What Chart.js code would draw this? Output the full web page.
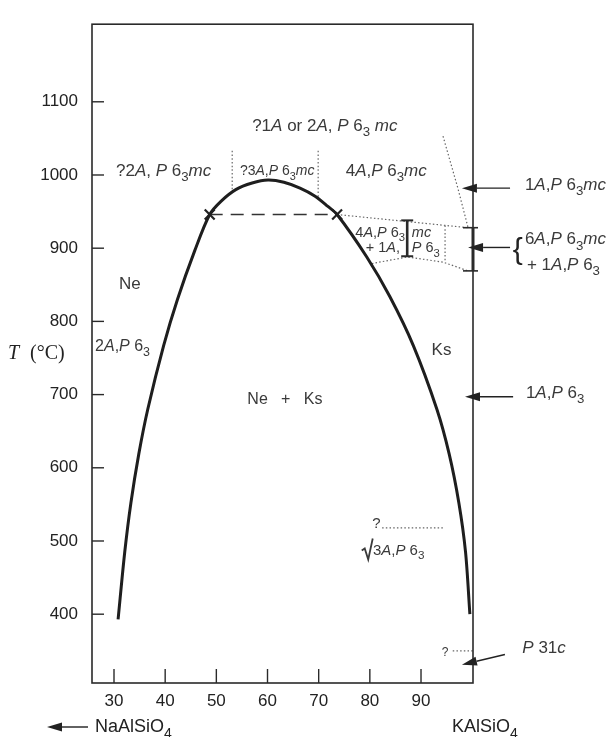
<!DOCTYPE html>
<html>
<head>
<meta charset="utf-8">
<script src="https://cdn.jsdelivr.net/npm/chart.js@4.4.1/dist/chart.umd.min.js"></script>
<style>
  body { margin: 0; background: #fff; }
  #wrap { width: 611px; height: 737px; }
</style>
</head>
<body>
<div id="wrap"><canvas id="phase"></canvas></div>
<script>
// axis ticks
const xTicks = [30, 40, 50, 60, 70, 80, 90];
const yTicks = [400, 500, 600, 700, 800, 900, 1000, 1100];

// solvus (mol % KAlSiO4, T in C)
const solvusX = [30.8, 32.1, 33.3, 34.85, 36.6, 39.7, 42.4, 45.8, 48.7, 50.9, 53.8, 57.0, 60.1, 63.2, 66.35, 69.3, 71.8, 73.6, 79.4, 83.9, 88.5, 93.1, 95.5, 97.4, 98.7, 99.55];
const solvusT = [393, 485, 552, 619, 680, 767, 830, 897, 946, 964, 980, 989, 993, 990, 982, 971, 957, 946, 888, 834, 767, 680, 619, 552, 485, 400];

// tie line between the two crosses
const tieX = [48.7, 73.6];
const tieT = [946, 946];

// dotted phase boundaries
const dotLeftX = [53.1, 53.1], dotLeftT = [1033, 978];
const dotMidX = [69.9, 69.9], dotMidT = [1033, 967];
const dotUpperX = [73.6, 99.2], dotUpperT = [946, 928];
const dotLowerX = [80.4, 87.3, 94.3, 99.2], dotLowerT = [879, 888, 881, 869];
const dotBoxX = [94.7, 94.7], dotBoxT = [931, 881];
const dotSteepX = [94.3, 97.2, 99.2], dotSteepT = [1053, 982, 928];
const dotSqrtX = [82.4, 94.3], dotSqrtT = [518, 518];
const dotLowX = [96.2, 100.1], dotLowT = [350, 350];

function pts(xs, ys) {
    return xs.map((x, i) => ({ x: x, y: ys[i] }));
}

const INK = '#1e1e1e';
const TXT = '#3a3a3a';
const SANS = '"Liberation Sans", Arial, sans-serif';

function dotted(xs, ys) {
    return {
        data: pts(xs, ys),
        showLine: true,
        borderColor: '#666',
        borderWidth: 1.2,
        borderDash: [1.5, 2.2],
        pointRadius: 0,
        fill: false
    };
}

// text with *italic* and _x subscript markup
function drawRich(ctx, str, x, y, size, align) {
    const segs = [];
    let italic = false;
    for (let i = 0; i < str.length; i++) {
        const c = str[i];
        if (c === '*') { italic = !italic; continue; }
        if (c === '_') { segs.push({ t: str[i + 1], it: italic, sub: true }); i++; continue; }
        segs.push({ t: c, it: italic, sub: false });
    }
    let total = 0;
    segs.forEach(s => {
        s.font = (s.it ? 'italic ' : '') + (s.sub ? size * 0.78 : size) + 'px ' + SANS;
        ctx.font = s.font;
        s.w = ctx.measureText(s.t).width;
        total += s.w;
    });
    let cx = x;
    if (align === 'center') cx = x - total / 2;
    if (align === 'right') cx = x - total;
    ctx.textBaseline = 'middle';
    ctx.textAlign = 'left';
    segs.forEach(s => {
        ctx.font = s.font;
        ctx.fillText(s.t, cx, s.sub ? y + size * 0.38 : y);
        cx += s.w;
    });
}

function arrow(ctx, x1, y1, x2, y2) {
    const a = Math.atan2(y2 - y1, x2 - x1);
    const hl = 15, hw = 4.5;
    const bx = x2 - hl * Math.cos(a), by = y2 - hl * Math.sin(a);
    ctx.beginPath();
    ctx.moveTo(x1, y1);
    ctx.lineTo(bx, by);
    ctx.stroke();
    ctx.beginPath();
    ctx.moveTo(x2, y2);
    ctx.lineTo(bx + hw * Math.sin(a), by - hw * Math.cos(a));
    ctx.lineTo(bx - hw * Math.sin(a), by + hw * Math.cos(a));
    ctx.closePath();
    ctx.fill();
}

// region labels: [text, x, T, size, align]
const labels = [
    ['?1*A* or 2*A*, *P* 6_3 *mc*', 71.2, 1067, 17, 'center'],
    ['?2*A*, *P* 6_3*mc*', 39.7, 1005, 17, 'center'],
    ['?3*A*,*P* 6_3*mc*', 61.9, 1005, 14, 'center'],
    ['4*A*,*P* 6_3*mc*', 83.2, 1005, 17, 'center'],
    ['Ne', 33.1, 850, 17, 'center'],
    ['2*A*,*P* 6_3', 26.3, 766, 16, 'left'],
    ['Ne   +   Ks', 63.4, 693, 16, 'center'],
    ['Ks', 94.0, 760, 17, 'center'],
    ['?', 81.3, 524, 15, 'center'],
    ['3*A*,*P* 6_3', 80.6, 487, 15, 'left'],
    ['?', 94.7, 348, 12, 'center'],
    ['4*A*,*P* 6_3', 86.9, 921, 14.5, 'right'],
    ['*mc*', 88.2, 921, 14.5, 'left'],
    ['+ 1*A*,', 85.9, 900, 14.5, 'right'],
    ['*P* 6_3', 88.2, 900, 14.5, 'left'],
    ['1*A*,*P* 6_3*mc*', 110.3, 986, 17, 'left'],
    ['6*A*,*P* 6_3*mc*', 110.3, 912, 17, 'left'],
    ['+ 1*A*,*P* 6_3', 110.7, 877, 17, 'left'],
    ['1*A*,*P* 6_3', 110.5, 702, 17, 'left'],
    ['*P* 31*c*', 109.8, 353, 17, 'left']
];

// arrows: [xFrom, TFrom, xTo, TTo]
const arrows = [
    [107.4, 982, 98.0, 982],
    [107.4, 901, 99.2, 901],
    [108.0, 697, 98.6, 697],
    [106.4, 345, 98.0, 331]
];

const decor = {
    id: 'decor',
    afterDraw(chart) {
        const ctx = chart.ctx;
        const a = chart.chartArea;
        const xs = chart.scales.x, ys = chart.scales.y;
        const px = v => xs.getPixelForValue(v);
        const py = v => ys.getPixelForValue(v);
        ctx.save();
        // frame
        ctx.strokeStyle = '#2a2a2a';
        ctx.lineWidth = 1.6;
        ctx.strokeRect(a.left, a.top, a.right - a.left, a.bottom - a.top);
        // inward ticks
        ctx.lineWidth = 1.4;
        yTicks.forEach(v => {
            ctx.beginPath();
            ctx.moveTo(a.left, py(v));
            ctx.lineTo(a.left + 12, py(v));
            ctx.stroke();
        });
        xTicks.forEach(v => {
            ctx.beginPath();
            ctx.moveTo(px(v), a.bottom);
            ctx.lineTo(px(v), a.bottom - 14);
            ctx.stroke();
        });
        // right axis bracket
        ctx.lineWidth = 3;
        ctx.beginPath();
        ctx.moveTo(a.right, py(928));
        ctx.lineTo(a.right, py(869));
        ctx.stroke();
        ctx.lineWidth = 1.6;
        [928, 869].forEach(v => {
            ctx.beginPath();
            ctx.moveTo(a.right - 10, py(v));
            ctx.lineTo(a.right + 5, py(v));
            ctx.stroke();
        });
        // I bar inside the two-phase field
        ctx.lineWidth = 2.6;
        ctx.beginPath();
        ctx.moveTo(px(87.3), py(938));
        ctx.lineTo(px(87.3), py(889));
        ctx.stroke();
        ctx.lineWidth = 2;
        [938, 889].forEach(v => {
            ctx.beginPath();
            ctx.moveTo(px(87.3) - 6, py(v));
            ctx.lineTo(px(87.3) + 6, py(v));
            ctx.stroke();
        });
        // arrows
        ctx.strokeStyle = '#222';
        ctx.fillStyle = '#222';
        ctx.lineWidth = 1.4;
        arrows.forEach(r => arrow(ctx, px(r[0]), py(r[1]), px(r[2]), py(r[3])));
        // labels
        ctx.fillStyle = TXT;
        labels.forEach(l => drawRich(ctx, l[0], px(l[1]), py(l[2]), l[3], l[4]));
        // square root sign
        ctx.strokeStyle = TXT;
        ctx.lineWidth = 1.8;
        const sx = px(79.0), sy = py(487);
        ctx.beginPath();
        ctx.moveTo(sx - 3, sy);
        ctx.lineTo(sx, sy - 2);
        ctx.lineTo(sx + 3.5, sy + 9);
        ctx.lineTo(sx + 8, sy - 12);
        ctx.stroke();
        // brace
        ctx.fillStyle = '#222';
        ctx.font = '30px ' + SANS;
        ctx.textAlign = 'center';
        ctx.textBaseline = 'middle';
        ctx.fillText('{', px(108.9), py(896));
        // axis titles
        ctx.fillStyle = '#222';
        ctx.textAlign = 'left';
        ctx.font = 'italic 20px "Liberation Serif", serif';
        ctx.fillText('T', 8, py(756));
        ctx.font = '20px "Liberation Serif", serif';
        ctx.fillText('(\u00B0C)', 30, py(756));
        const by = a.bottom + 44;
        ctx.lineWidth = 1.6;
        arrow(ctx, 88, by, 47, by);
        drawRich(ctx, 'NaAlSiO_4', 95, by, 18, 'left');
        drawRich(ctx, 'KAlSiO_4', 452, by, 18, 'left');
        ctx.restore();
    }
};

new Chart(document.getElementById('phase'), {
    type: 'scatter',
    data: {
        datasets: [
            {
                data: pts(solvusX, solvusT),
                showLine: true,
                borderColor: INK,
                borderWidth: 3,
                tension: 0.3,
                pointRadius: 0,
                fill: false
            },
            {
                data: pts(tieX, tieT),
                showLine: true,
                borderColor: '#333',
                borderWidth: 1.6,
                borderDash: [13, 8],
                pointStyle: 'crossRot',
                pointRadius: 7,
                pointBorderWidth: 2.2,
                pointBorderColor: '#222',
                fill: false
            },
            dotted(dotLeftX, dotLeftT),
            dotted(dotMidX, dotMidT),
            dotted(dotUpperX, dotUpperT),
            dotted(dotLowerX, dotLowerT),
            dotted(dotBoxX, dotBoxT),
            dotted(dotSteepX, dotSteepT),
            dotted(dotSqrtX, dotSqrtT),
            dotted(dotLowX, dotLowT)
        ]
    },
    options: {
        responsive: true,
        maintainAspectRatio: false,
        animation: false,
        layout: { padding: { left: 0, right: 138, top: 13, bottom: 24 } },
        plugins: {
            legend: { display: false },
            tooltip: { enabled: false }
        },
        scales: {
            x: {
                type: 'linear',
                min: 25.7,
                max: 100.16,
                afterBuildTicks: s => { s.ticks = xTicks.map(v => ({ value: v })); },
                afterFit: s => { s.height = 30; },
                grid: { display: false, drawTicks: false },
                border: { display: false },
                ticks: { color: '#222', font: { family: SANS, size: 17 }, padding: 8, callback: v => String(v) }
            },
            y: {
                type: 'linear',
                min: 306,
                max: 1206,
                afterBuildTicks: s => { s.ticks = yTicks.map(v => ({ value: v })); },
                afterFit: s => { s.width = 92; },
                grid: { display: false, drawTicks: false },
                border: { display: false },
                ticks: { color: '#222', font: { family: SANS, size: 17 }, padding: 14, callback: v => String(v) }
            }
        }
    },
    plugins: [decor]
});
</script>
</body>
</html>
